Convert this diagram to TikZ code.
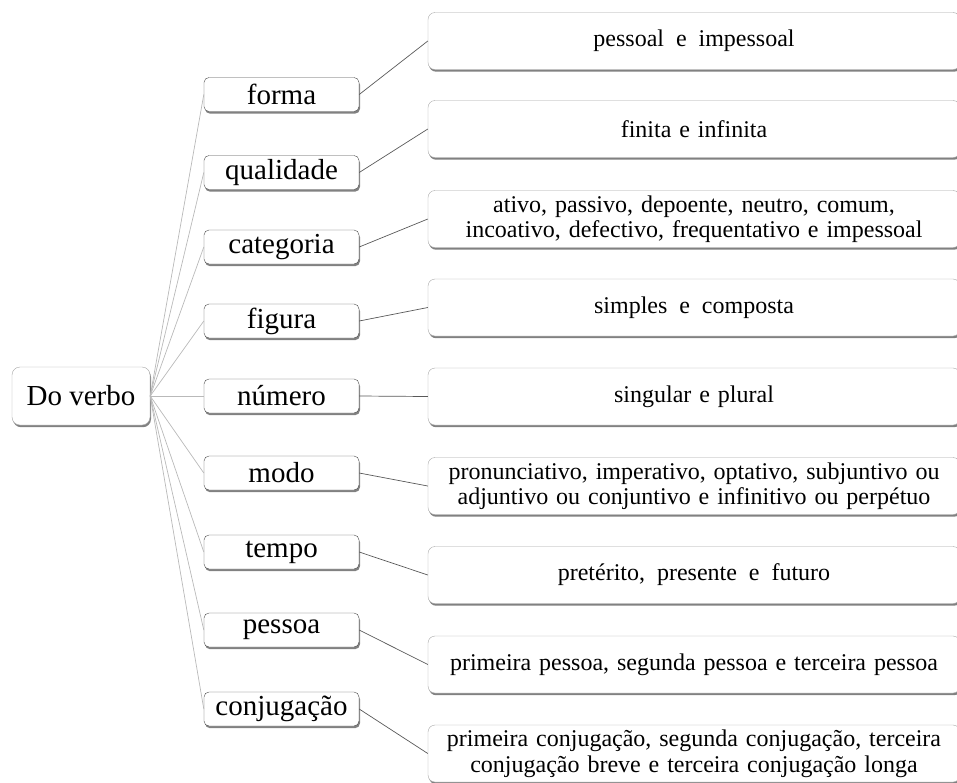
\documentclass[tikz,border=0pt]{standalone}
\usepackage{fontspec}
\setmainfont{Liberation Serif}
\usepackage{tikz}
\usetikzlibrary{shadows}
\newcommand{\testoGrande}{\fontsize{29}{31}\selectfont}
\newcommand{\testoPiccolo}{\fontsize{24}{25.5}\selectfont\spaceskip=0.33em plus 0.1em}

\begin{document}
\begin{tikzpicture}[x = 1pt, y = -1pt,
    scatola/.style = {draw = gray!70, fill = white, inner sep = 0pt, drop shadow = {shadow xshift = 1pt, shadow yshift = -2.2pt, fill = gray!60!black, opacity = 0.7}},
    raiz/.style = {scatola, rounded corners = 8pt, minimum width = 138pt, minimum height = 58pt, font = \testoGrande},
    ramo/.style = {scatola, draw = gray!60!black, rounded corners = 5pt, minimum width = 155pt, minimum height = 34pt, font = \testoGrande},
    folha/.style = {scatola, rounded corners = 7pt, minimum width = 532pt, minimum height = 57pt, align = center, font = \testoPiccolo},
    ligacao/.style = {gray!55, line width = 0.7pt},
    ligacaoFolha/.style = {gray!70!black, line width = 0.7pt}]
    % Parametri
    \pgfmathsetmacro{\xramo}{281.5}
    \pgfmathsetmacro{\xfolha}{694}
    % Margini
    \useasboundingbox (0,0) rectangle (957,782);
    \clip (0,0) rectangle (957,782);
    % Radice
    \node[raiz] (verbo) at (81,396) {Do verbo};
    % Rami
    \node[ramo] (forma) at (\xramo,94.5) {forma};
    \node[ramo] (qualidade) at (\xramo,172.5) {qualidade};
    \node[ramo] (categoria) at (\xramo,247) {categoria};
    \node[ramo] (figura) at (\xramo,321) {figura};
    \node[ramo] (numero) at (\xramo,396) {número};
    \node[ramo] (modo) at (\xramo,473) {modo};
    \node[ramo] (tempo) at (\xramo,552) {tempo};
    \node[ramo] (pessoa) at (\xramo,630) {pessoa};
    \node[ramo] (conjugacao) at (\xramo,709) {conjugação};
    % Foglie
    \node[folha] (formaVal) at (\xfolha,41) {pessoal\, e\, impessoal};
    \node[folha] (qualidadeVal) at (\xfolha,129) {finita e infinita};
    \node[folha] (categoriaVal) at (\xfolha,219) {ativo, passivo, depoente, neutro, comum,\\incoativo, defectivo, frequentativo e impessoal};
    \node[folha] (figuraVal) at (\xfolha,307.5) {simples\, e\, composta};
    \node[folha] (numeroVal) at (\xfolha,396.5) {singular e plural};
    \node[folha] (modoVal) at (\xfolha,486) {pronunciativo, imperativo, optativo, subjuntivo ou\\adjuntivo ou conjuntivo e infinitivo ou perpétuo};
    \node[folha] (tempoVal) at (\xfolha,575) {pretérito,\, presente\, e\, futuro};
    \node[folha] (pessoaVal) at (\xfolha,664.5) {primeira pessoa, segunda pessoa e terceira pessoa};
    \node[folha] (conjugacaoVal) at (\xfolha,753.5) {primeira conjugação, segunda conjugação, terceira\\conjugação breve e terceira conjugação longa};
    % Collegamenti radice - rami
    \draw[ligacao] (verbo.east) -- (forma.west);
    \draw[ligacao] (verbo.east) -- (qualidade.west);
    \draw[ligacao] (verbo.east) -- (categoria.west);
    \draw[ligacao] (verbo.east) -- (figura.west);
    \draw[ligacao] (verbo.east) -- (numero.west);
    \draw[ligacao] (verbo.east) -- (modo.west);
    \draw[ligacao] (verbo.east) -- (tempo.west);
    \draw[ligacao] (verbo.east) -- (pessoa.west);
    \draw[ligacao] (verbo.east) -- (conjugacao.west);
    % Collegamenti rami - foglie
    \draw[ligacaoFolha] (forma.east) -- (formaVal.west);
    \draw[ligacaoFolha] (qualidade.east) -- (qualidadeVal.west);
    \draw[ligacaoFolha] (categoria.east) -- (categoriaVal.west);
    \draw[ligacaoFolha] (figura.east) -- (figuraVal.west);
    \draw[ligacaoFolha] (numero.east) -- (numeroVal.west);
    \draw[ligacaoFolha] (modo.east) -- (modoVal.west);
    \draw[ligacaoFolha] (tempo.east) -- (tempoVal.west);
    \draw[ligacaoFolha] (pessoa.east) -- (pessoaVal.west);
    \draw[ligacaoFolha] (conjugacao.east) -- (conjugacaoVal.west);
\end{tikzpicture}
\end{document}
